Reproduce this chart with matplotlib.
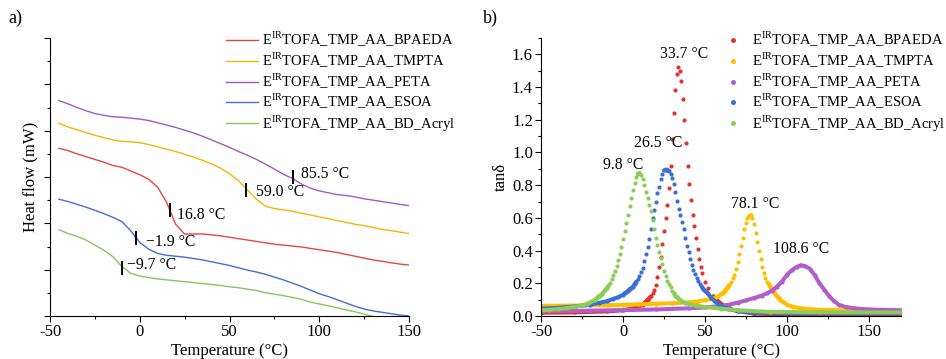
import matplotlib
matplotlib.use('Agg')
import matplotlib.pyplot as plt
import numpy as np
from matplotlib.ticker import MultipleLocator

plt.rcParams['font.family'] = 'Liberation Serif'
plt.rcParams['mathtext.fontset'] = 'custom'
plt.rcParams['mathtext.rm'] = 'Liberation Serif'
plt.rcParams['axes.unicode_minus'] = False
plt.rcParams['font.size'] = 11

# sample names (same order in both panels)
names = ['BPAEDA', 'TMPTA', 'PETA', 'ESOA', 'BD_Acryl']

# a) DSC heat flow (arbitrary offset units), shared temperature grid
T_dsc = [-45, -40, -35, -30, -25, -20, -15, -10, -5, 0, 5, 10, 15, 20, 25, 30, 35, 40, 45, 50,
         55, 60, 65, 70, 75, 80, 85, 90, 95, 100, 105, 110, 115, 120, 125, 130, 135, 140, 145, 150]
hf_bpaeda = [3.62, 3.57, 3.50, 3.44, 3.38, 3.32, 3.25, 3.21, 3.13, 3.05, 2.95, 2.78, 2.45, 1.98,
             1.77, 1.77, 1.77, 1.75, 1.73, 1.70, 1.67, 1.64, 1.61, 1.58, 1.55, 1.53, 1.51, 1.49,
             1.46, 1.43, 1.40, 1.37, 1.33, 1.29, 1.25, 1.21, 1.18, 1.15, 1.12, 1.10]
hf_tmpta = [4.16, 4.08, 4.02, 3.96, 3.90, 3.85, 3.80, 3.77, 3.76, 3.74, 3.70, 3.65, 3.60, 3.55,
            3.49, 3.43, 3.36, 3.28, 3.19, 3.07, 2.92, 2.72, 2.52, 2.37, 2.32, 2.29, 2.26, 2.22,
            2.18, 2.14, 2.10, 2.06, 2.02, 1.98, 1.95, 1.91, 1.87, 1.84, 1.81, 1.78]
hf_peta = [4.65, 4.58, 4.50, 4.43, 4.37, 4.33, 4.30, 4.29, 4.27, 4.25, 4.22, 4.17, 4.12, 4.07,
           4.01, 3.95, 3.88, 3.80, 3.72, 3.64, 3.55, 3.47, 3.38, 3.28, 3.17, 3.06, 2.97, 2.85,
           2.76, 2.70, 2.66, 2.62, 2.60, 2.57, 2.53, 2.50, 2.47, 2.44, 2.41, 2.38]
hf_esoa = [2.52, 2.47, 2.41, 2.35, 2.28, 2.21, 2.13, 2.04, 1.84, 1.59, 1.44, 1.35, 1.31, 1.29,
           1.27, 1.24, 1.21, 1.17, 1.13, 1.09, 1.04, 0.99, 0.95, 0.90, 0.84, 0.78, 0.71, 0.64,
           0.56, 0.48, 0.42, 0.35, 0.28, 0.21, 0.15, 0.11, 0.08, 0.05, 0.02, 0.00]
hf_bdacryl = [1.86, 1.78, 1.72, 1.64, 1.53, 1.42, 1.28, 1.07, 0.92, 0.86, 0.83, 0.80, 0.78, 0.76,
              0.74, 0.72, 0.70, 0.68, 0.66, 0.63, 0.61, 0.58, 0.55, 0.50, 0.47, 0.44, 0.40, 0.36,
              0.30, 0.26, 0.22, 0.18, 0.13, 0.09, 0.04, -0.01, -0.05, -0.09, -0.12, -0.15]
tg_dsc = [16.8, 59.0, 85.5, -1.9, -9.7]
tg_dsc_hf = [2.28, 2.72, 3.01, 1.68, 1.04]
tg_dsc_text = ['16.8 °C', '59.0 °C', '85.5 °C', '\u22121.9 °C', '\u22129.7 °C']

# b) DMA tan delta
T_bpaeda = [-50, -30, -10, 0, 5, 10, 12, 14, 15, 16, 17, 18, 19, 20, 21, 22, 23, 24, 25, 26, 27,
            28, 29, 30, 31, 32, 33, 33.7, 34.5, 35.5, 36.5, 37.5, 38.5, 39.5, 40.5, 41.5, 42.5,
            43.5, 44.5, 45.5, 46.5, 47.5, 48.5, 50, 52, 55, 58, 62, 66, 70, 80, 100, 130, 170]
td_bpaeda = [0.02, 0.022, 0.028, 0.035, 0.045, 0.06, 0.07, 0.09, 0.10, 0.11, 0.12, 0.14, 0.16,
             0.19, 0.24, 0.30, 0.36, 0.44, 0.52, 0.60, 0.68, 0.78, 0.92, 1.08, 1.24, 1.38, 1.48,
             1.52, 1.50, 1.44, 1.33, 1.20, 1.06, 0.92, 0.81, 0.71, 0.62, 0.55, 0.48, 0.41, 0.35,
             0.30, 0.26, 0.21, 0.17, 0.12, 0.09, 0.06, 0.04, 0.03, 0.015, 0.008, 0.005, 0.005]

T_tmpta = [-50, -30, -10, 0, 10, 20, 30, 40, 45, 50, 53, 56, 58, 60, 61, 62, 63, 64, 65, 66, 67,
           68, 69, 70, 71, 72, 73, 74, 75, 76, 77, 78, 79, 80, 81, 82, 83, 84, 85, 86, 87, 88,
           89, 90, 91, 92, 93, 94, 95, 96, 98, 100, 104, 110, 120, 140, 170]
td_tmpta = [0.062, 0.064, 0.066, 0.068, 0.071, 0.075, 0.078, 0.083, 0.088, 0.097, 0.103, 0.11,
            0.12, 0.135, 0.14, 0.155, 0.165, 0.18, 0.19, 0.21, 0.23, 0.25, 0.29, 0.33, 0.38,
            0.43, 0.48, 0.53, 0.57, 0.60, 0.61, 0.615, 0.60, 0.56, 0.51, 0.45, 0.40, 0.35, 0.30,
            0.26, 0.23, 0.21, 0.195, 0.18, 0.165, 0.15, 0.135, 0.12, 0.11, 0.10, 0.085, 0.07,
            0.055, 0.045, 0.038, 0.034, 0.032]

T_peta = [-50, -20, 0, 20, 40, 50, 60, 65, 70, 75, 80, 85, 88, 91, 94, 97, 100, 103, 106, 108.6,
          111, 114, 117, 120, 123, 126, 129, 132, 136, 142, 150, 160, 170]
td_peta = [0.028, 0.033, 0.036, 0.04, 0.047, 0.052, 0.062, 0.07, 0.082, 0.095, 0.11, 0.125, 0.14,
           0.155, 0.18, 0.21, 0.25, 0.28, 0.30, 0.31, 0.305, 0.29, 0.25, 0.20, 0.16, 0.12, 0.09,
           0.068, 0.055, 0.046, 0.04, 0.037, 0.035]

T_esoa = [-50, -40, -30, -20, -15, -10, -6, -3, 0, 1, 2, 3, 4, 5, 6, 7, 8, 9, 10, 11, 12, 13, 14,
          15, 16, 17, 18, 19, 20, 21, 22, 23, 24, 25, 26, 27, 28, 29, 30, 31, 32, 33, 34, 35, 36,
          37, 38, 39, 40, 41, 42, 43, 44, 45, 46, 47, 48, 49, 50, 51, 52, 54, 56, 58, 60, 64, 70,
          80, 100, 130, 170]
td_esoa = [0.045, 0.05, 0.058, 0.07, 0.08, 0.09, 0.105, 0.115, 0.13, 0.14, 0.145, 0.155, 0.165,
           0.17, 0.18, 0.195, 0.21, 0.225, 0.245, 0.27, 0.295, 0.335, 0.38, 0.42, 0.47, 0.53,
           0.60, 0.65, 0.70, 0.75, 0.79, 0.84, 0.87, 0.89, 0.895, 0.895, 0.885, 0.87, 0.845,
           0.81, 0.76, 0.705, 0.655, 0.615, 0.575, 0.53, 0.48, 0.43, 0.39, 0.35, 0.31, 0.28,
           0.255, 0.235, 0.215, 0.195, 0.18, 0.165, 0.155, 0.145, 0.135, 0.11, 0.09, 0.075, 0.06,
           0.045, 0.03, 0.02, 0.017, 0.016, 0.016]

T_bdacryl = [-50, -45, -40, -35, -30, -25, -22, -20, -18, -17, -16, -15, -14, -13, -12, -11, -10,
             -9, -8, -7, -6, -5, -4, -3, -2, -1, 0, 1, 2, 3, 4, 5, 6, 7, 8, 9, 10, 11, 12, 13, 14,
             15, 16, 17, 18, 19, 20, 21, 22, 23, 24, 25, 26, 27, 28, 29, 30, 31, 32, 33, 34, 36,
             38, 41, 45, 50, 60, 70, 90, 120, 170]
td_bdacryl = [0.035, 0.038, 0.042, 0.048, 0.055, 0.065, 0.075, 0.085, 0.095, 0.10, 0.11, 0.12,
              0.125, 0.135, 0.145, 0.16, 0.17, 0.185, 0.20, 0.225, 0.25, 0.275, 0.305, 0.34, 0.38,
              0.425, 0.47, 0.52, 0.57, 0.62, 0.67, 0.72, 0.77, 0.815, 0.85, 0.87, 0.875, 0.86,
              0.84, 0.80, 0.76, 0.72, 0.68, 0.64, 0.59, 0.53, 0.48, 0.435, 0.39, 0.355, 0.315,
              0.275, 0.245, 0.215, 0.195, 0.175, 0.155, 0.14, 0.125, 0.115, 0.105, 0.09, 0.08,
              0.07, 0.062, 0.055, 0.045, 0.035, 0.025, 0.022, 0.022]
tg_dma = [33.7, 78.1, 108.6, 26.5, 9.8]

colors_a = ['#e8473f', '#f7b500', '#aa55c8', '#3f70d4', '#86c55c']
colors_b = ['#e3342b', '#ffbf00', '#b35ccc', '#3a6fd6', '#8ccd57']

labels = [r'E$^{\mathrm{IR}}$TOFA_TMP_AA_' + n for n in names]

fig = plt.figure(figsize=(9.46, 3.59), dpi=100)
ax1 = fig.add_axes([50 / 946, 43 / 359, 359 / 946, 278 / 359])
ax2 = fig.add_axes([541.3 / 946, 43 / 359, 360 / 946, 278 / 359])

# ---- panel a
for hf, c, lab in zip([hf_bpaeda, hf_tmpta, hf_peta, hf_esoa, hf_bdacryl], colors_a, labels):
    ax1.plot(T_dsc, hf, color=c, lw=1.0, label=lab)

dsc_offsets = [(5.4, -3.3), (7.2, -1.7), (5.8, 1.7), (6.6, -2.6), (3.7, 1.7)]
for tg, h, txt, off in zip(tg_dsc, tg_dsc_hf, tg_dsc_text, dsc_offsets):
    ax1.plot([tg, tg], [h - 0.13, h + 0.13], color='black', lw=1.4)
    ax1.annotate(txt, (tg, h), xytext=off, textcoords='offset points',
                 ha='left', va='center', fontsize=11.3)

ax1.set_xlim(-50, 150)
ax1.set_ylim(0, 6)
ax1.xaxis.set_major_locator(MultipleLocator(50))
ax1.xaxis.set_minor_locator(MultipleLocator(25))
ax1.yaxis.set_major_locator(MultipleLocator(1))
ax1.yaxis.set_minor_locator(MultipleLocator(0.5))
ax1.set_yticklabels([])
ax1.set_xlabel('Temperature (°C)', labelpad=2, fontsize=12)
ax1.set_ylabel('Heat flow (mW)', labelpad=2, fontsize=12)
ax1.legend(loc='upper left', bbox_to_anchor=(226 / 946, 1 - 30 / 359),
           bbox_transform=fig.transFigure, frameon=False, borderpad=0, borderaxespad=0,
           handlelength=2.2, handletextpad=0.3, labelspacing=0.12, fontsize=10.5)

# ---- panel b
def draw_dma(ax, t, y, color, label):
    t = np.asarray(t, dtype=float)
    y = np.asarray(y, dtype=float)
    # sampled points merge into a line where the curve is flat
    slope = np.abs(np.gradient(y, t)) * 99
    ax.plot(t, np.where(slope < 1.5, y, np.nan), color=color, lw=2.9,
            solid_capstyle='round')
    ax.plot(t, y, ls='none', marker='o', ms=3.0, mew=0, color=color, label=label)

for t, y, c, lab in zip([T_bpaeda, T_tmpta, T_peta, T_esoa, T_bdacryl],
                        [td_bpaeda, td_tmpta, td_peta, td_esoa, td_bdacryl], colors_b, labels):
    draw_dma(ax2, t, y, c, lab)

dma_offsets = [(3.9, 9.4), (2.8, 8.5), (0.4, 11.7), (-6.3, 19.4), (-11.3, 6.0)]
for tg, y, off in zip(tg_dma, [td_bpaeda, td_tmpta, td_peta, td_esoa, td_bdacryl],
                      dma_offsets):
    ax2.annotate('%.1f °C' % tg, (tg, max(y)), xytext=off, textcoords='offset points',
                 ha='center', va='center', fontsize=11.3)

ax2.set_xlim(-50, 170)
ax2.set_ylim(0, 1.7)
ax2.xaxis.set_major_locator(MultipleLocator(50))
ax2.xaxis.set_minor_locator(MultipleLocator(25))
ax2.yaxis.set_major_locator(MultipleLocator(0.2))
ax2.yaxis.set_minor_locator(MultipleLocator(0.1))
ax2.yaxis.set_major_formatter(plt.FormatStrFormatter('%.1f'))
ax2.set_xlabel('Temperature (°C)', labelpad=2, fontsize=12)
ax2.set_ylabel('tanδ', labelpad=2, fontsize=12)
ax2.legend(loc='upper left', bbox_to_anchor=(726 / 946, 1 - 30 / 359),
           bbox_transform=fig.transFigure, frameon=False, borderpad=0, borderaxespad=0,
           handlelength=1.0, handletextpad=0.75, labelspacing=0.12, fontsize=10.5,
           markerscale=1.2)

for ax in (ax1, ax2):
    for s in ('top', 'right'):
        ax.spines[s].set_visible(False)
    ax.tick_params(which='major', direction='out', length=4, width=0.8, labelsize=12, pad=2)
    ax.tick_params(which='minor', direction='out', length=2.5, width=0.8)

fig.text(8 / 946, 1 - 18 / 359, 'a)', fontsize=13, va='center', ha='left')
fig.text(483 / 946, 1 - 18 / 359, 'b)', fontsize=13, va='center', ha='left')

fig.savefig('out.png', dpi=100)
